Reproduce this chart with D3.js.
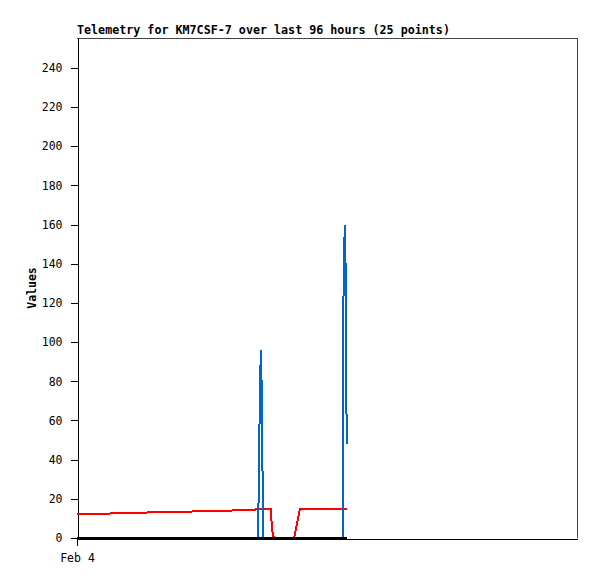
<!DOCTYPE html>
<html>
<head>
<meta charset="utf-8">
<script src="https://cdn.jsdelivr.net/npm/d3@7"></script>
<style>
  body { margin: 0; background: #fff; }
  text { font-family: "DejaVu Sans Mono", monospace; }
</style>
</head>
<body>
<div id="canvas"></div>
<script>
"use strict"

/* data: hours since Feb 4 00:00 and the three telemetry channels */
let hours = [0, 6.3, 13.1, 21.7, 29.4, 34.2, 34.7, 34.9, 35.1, 35.3, 35.5, 35.65, 35.8,
    37.2, 37.45, 37.8, 41.7, 42.8, 51.1, 51.12, 51.15, 51.4, 51.62, 51.66, 51.85];
let redValues = [12, 12.5, 13, 13.5, 14, 14.5, 15, 15, 15, 15, 15, 15, 15,
    15, 4, 0, 0, 15, 15, 15, 15, 15, 15, 15, 15];
let blueValues = [0, 0, 0, 0, 0, 0, 0, 24, 72, 96, 72, 24, 0,
    0, 0, 0, 0, 0, 0, 40, 120, 160, 132, 76, 48];
let blackValues = [0, 0, 0, 0, 0, 0, 0, 0, 0, 0, 0, 0, 0,
    0, 0, 0, 0, 0, 0, 0, 0, 0, 0, 0, 0];
let yTicks = [0, 20, 40, 60, 80, 100, 120, 140, 160, 180, 200, 220, 240];
let yMax = 255.3;
let titleText = "Telemetry for KM7CSF-7 over last 96 hours (25 points)";

/* drawing config */
let svgWidth = 597;
let svgHeight = 579;
let plotLeft = 77, plotRight = 577, plotTop = 38, plotBottom = 538;

let start = new Date(2024, 1, 4, 0, 0);
let end = new Date(start.getTime() + 96 * 3600 * 1000);
let times = hours.map(h => new Date(start.getTime() + h * 3600 * 1000));

let svg = d3.select("#canvas")
    .append("svg")
    .attr("width", svgWidth)
    .attr("height", svgHeight);

svg.append("rect")
    .attr("width", svgWidth)
    .attr("height", svgHeight)
    .attr("fill", "#fff");

let xScale = d3.scaleTime()
    .domain([start, end])
    .range([plotLeft, plotRight]);

let yScale = d3.scaleLinear()
    .domain([0, yMax])
    .range([plotBottom, plotTop]);

/* frame: top and right edges */
svg.append("path")
    .attr("d", "M" + plotLeft + "," + (plotTop + 0.5) + "H" + (plotRight + 0.5) + "V" + plotBottom)
    .attr("fill", "none")
    .attr("stroke", "#444")
    .attr("stroke-width", 1)
    .attr("shape-rendering", "crispEdges");

/* y axis */
let yAxis = svg.append("g")
    .attr("transform", "translate(" + (plotLeft + 0.5) + ",0)")
    .call(d3.axisLeft(yScale).tickValues(yTicks).tickSize(7).tickPadding(8).tickSizeOuter(0));
yAxis.select(".domain").attr("stroke", "#000").attr("shape-rendering", "crispEdges");
yAxis.selectAll(".tick line").attr("stroke", "#000").attr("shape-rendering", "crispEdges");
yAxis.selectAll(".tick text")
    .attr("font-family", "DejaVu Sans Mono")
    .attr("font-size", "11.5px")
    .attr("fill", "#000");

/* x axis */
let xAxis = svg.append("g")
    .attr("transform", "translate(0," + (plotBottom + 0.5) + ")")
    .call(d3.axisBottom(xScale).tickValues([start]).tickSize(7).tickPadding(8)
        .tickSizeOuter(0).tickFormat(d3.timeFormat("%b %-d")));
xAxis.select(".domain").attr("stroke", "#000").attr("shape-rendering", "crispEdges");
xAxis.selectAll(".tick line").attr("stroke", "#000").attr("shape-rendering", "crispEdges");
xAxis.selectAll(".tick text")
    .attr("font-family", "DejaVu Sans Mono")
    .attr("font-size", "11.5px")
    .attr("fill", "#000");

/* series lines: red first, blue over it, black on top */
let series = [
    {values: redValues, color: "#ff0000"},
    {values: blueValues, color: "#0066cc"},
    {values: blackValues, color: "#000000"}
];

let line = d3.line()
    .x(d => xScale(d.t))
    .y(d => yScale(d.v));

series.forEach(function (s) {
    let pts = s.values.map((v, i) => ({t: times[i], v: v}));
    svg.append("path")
        .datum(pts)
        .attr("d", line)
        .attr("fill", "none")
        .attr("stroke", s.color)
        .attr("stroke-width", 2)
        .attr("shape-rendering", "crispEdges");
});

/* title */
svg.append("text")
    .attr("x", plotLeft)
    .attr("y", 34)
    .attr("font-size", "11.7px")
    .attr("font-weight", "bold")
    .text(titleText);

/* y label */
svg.append("text")
    .attr("transform", "translate(36," + ((plotTop + plotBottom) / 2) + ") rotate(-90)")
    .attr("text-anchor", "middle")
    .attr("font-size", "11.5px")
    .attr("font-weight", "bold")
    .text("Values");
</script>
</body>
</html>
